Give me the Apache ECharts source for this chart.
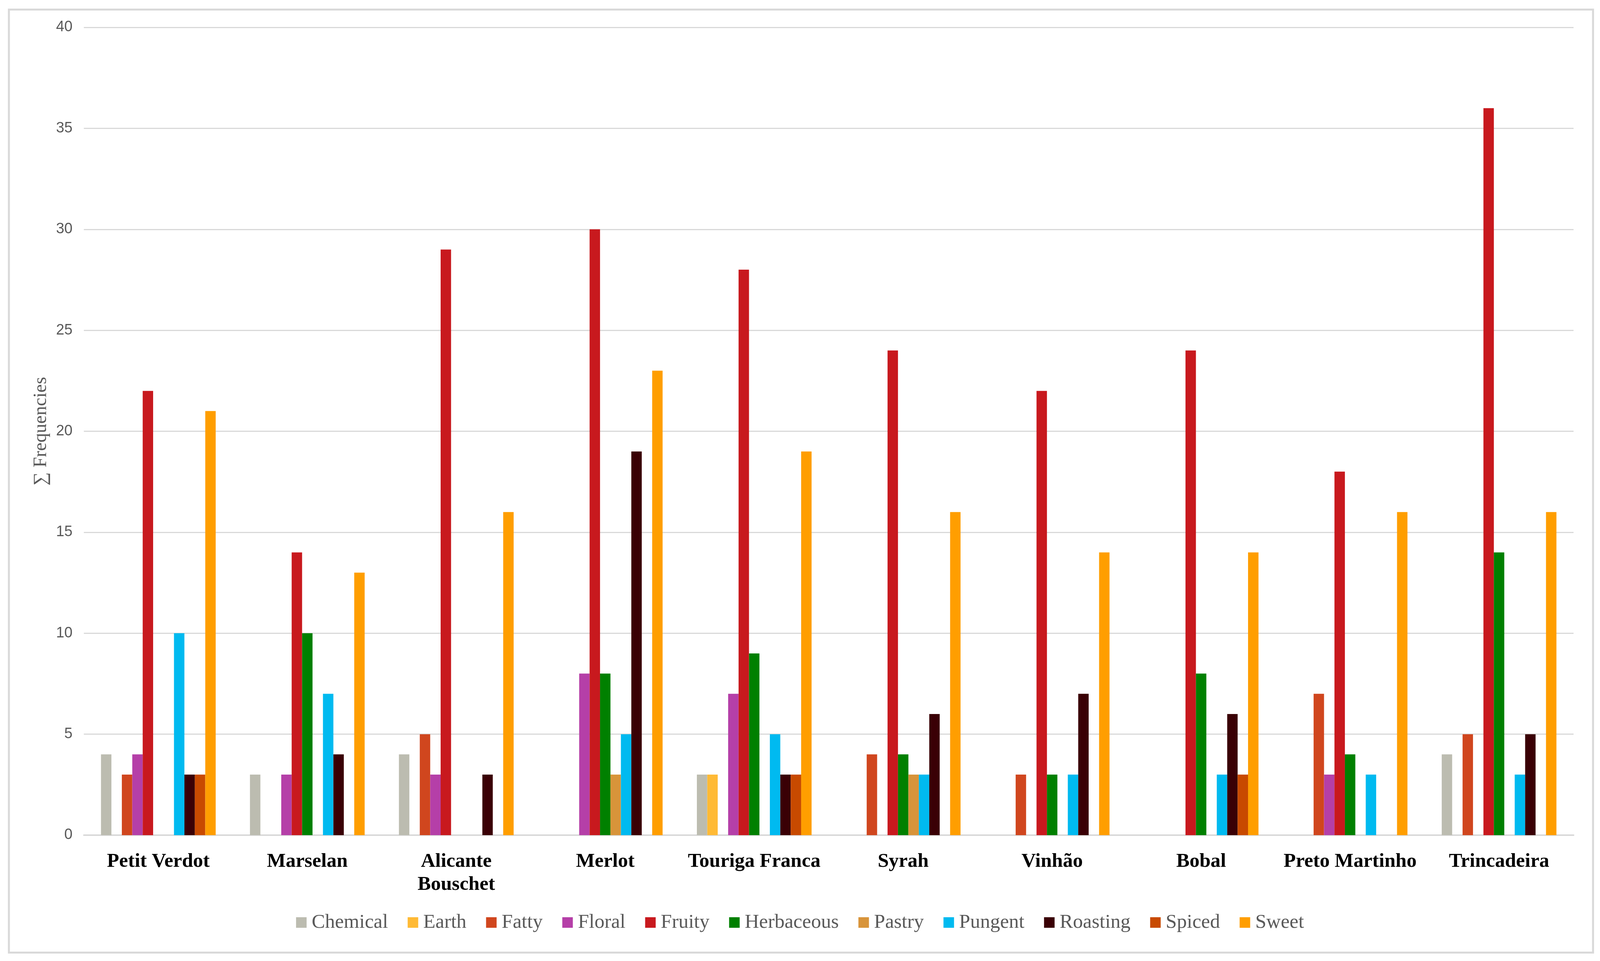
<!DOCTYPE html>
<html>
<head>
<meta charset="utf-8">
<script src="https://cdn.jsdelivr.net/npm/echarts@6/dist/echarts.min.js"></script>
<style>html,body{margin:0;padding:0;background:#fff;overflow:hidden;}#c{width:100vw;height:100vh;}</style>
</head>
<body>
<div id="c"></div>
<script>
const categories = ['Petit Verdot','Marselan','Alicante Bouschet','Merlot','Touriga Franca','Syrah','Vinhão','Bobal','Preto Martinho','Trincadeira'];
const seriesNames = ['Chemical','Earth','Fatty','Floral','Fruity','Herbaceous','Pastry','Pungent','Roasting','Spiced','Sweet'];
const chemical   = [4, 3, 4, 0, 3, 0, 0, 0, 0, 4];
const earth      = [0, 0, 0, 0, 3, 0, 0, 0, 0, 0];
const fatty      = [3, 0, 5, 0, 0, 4, 3, 0, 7, 5];
const floral     = [4, 3, 3, 8, 7, 0, 0, 0, 3, 0];
const fruity     = [22, 14, 29, 30, 28, 24, 22, 24, 18, 36];
const herbaceous = [0, 10, 0, 8, 9, 4, 3, 8, 4, 14];
const pastry     = [0, 0, 0, 3, 0, 3, 0, 0, 0, 0];
const pungent    = [10, 7, 0, 5, 5, 3, 3, 3, 3, 3];
const roasting   = [3, 4, 3, 19, 3, 6, 7, 6, 0, 5];
const spiced     = [3, 0, 0, 0, 3, 0, 0, 3, 0, 0];
const sweet      = [21, 13, 16, 23, 19, 16, 14, 14, 16, 16];
const yTicks = {min: 0, max: 40, interval: 5};

const values = [chemical, earth, fatty, floral, fruity, herbaceous, pastry, pungent, roasting, spiced, sweet];
const colors = ['#BCBCB0','#FFBA35','#D0461E','#B53FA8','#C8191E','#008000','#D8943A','#00BAF0','#3A0005','#C84A00','#FF9E00'];

const el = document.getElementById('c');
const chart = echarts.init(el);
const W = el.clientWidth, H = el.clientHeight;
const sx = W / 4236;
chart.setOption({
  animation: false,
  backgroundColor: '#ffffff',
  graphic: [{
    type: 'rect', left: 21 * sx, top: 22,
    shape: {width: W - 42 * sx, height: H - 46},
    style: {fill: 'none', stroke: '#d9d9d9', lineWidth: 5},
    silent: true
  }],
  grid: {left: 222 * sx, right: 70 * sx, top: 70, bottom: 322, containLabel: false},
  legend: {
    data: seriesNames,
    bottom: 68,
    left: 'center',
    itemWidth: 27, itemHeight: 27, itemGap: 52 * sx,
    icon: 'rect',
    textStyle: {fontFamily: 'Liberation Serif', fontSize: 51, color: '#595959', padding: [0, 0, 0, 8]}
  },
  xAxis: {
    type: 'category',
    data: categories,
    axisLine: {lineStyle: {color: '#d9d9d9', width: 4}},
    axisTick: {show: false},
    axisLabel: {
      interval: 0,
      margin: 38,
      fontFamily: 'Liberation Serif', fontWeight: 'bold', fontSize: 51, color: '#000',
      lineHeight: 59,
      formatter: v => v.length > 15 ? v.replace(' ', '\n') : v
    }
  },
  yAxis: {
    type: 'value',
    min: yTicks.min, max: yTicks.max, interval: yTicks.interval,
    name: '∑ Frequencies',
    nameLocation: 'middle', nameRotate: 90, nameGap: 88 * sx,
    nameTextStyle: {fontFamily: 'Liberation Serif', fontSize: 48, color: '#595959'},
    axisLine: {show: false}, axisTick: {show: false},
    axisLabel: {margin: 30 * sx, fontFamily: 'Liberation Sans', fontSize: 38, color: '#595959'},
    splitLine: {lineStyle: {color: '#d9d9d9', width: 3}}
  },
  series: seriesNames.map((n, i) => ({
    name: n,
    type: 'bar',
    data: values[i],
    itemStyle: {color: colors[i]},
    barGap: '0%',
    barCategoryGap: '23%'
  }))
});
</script>
</body>
</html>
